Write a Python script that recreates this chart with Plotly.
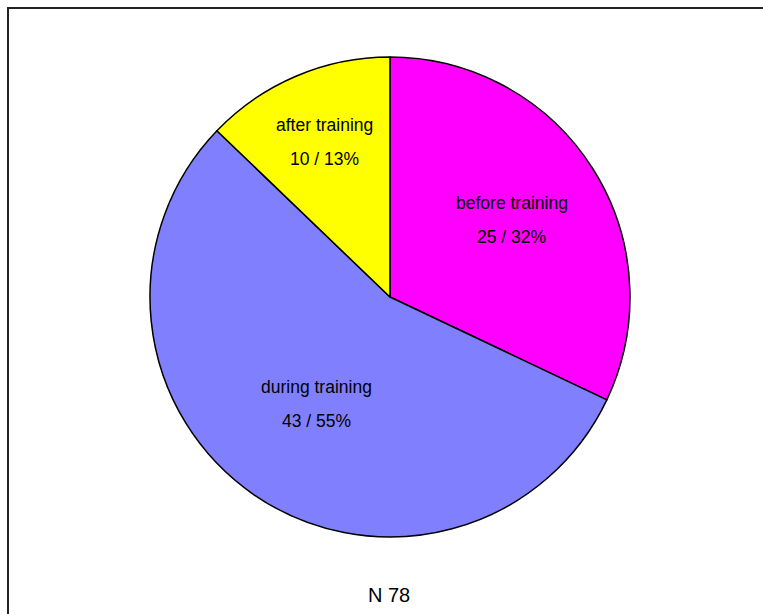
import math
import plotly.graph_objects as go

# ---- data ----
categories = ["before training", "during training", "after training"]
counts = [25, 43, 10]
colors = ["#FF00FF", "#8080FF", "#FFFF00"]
label_radius = [0.60, 0.54, 0.70]  # label distance from center, as fraction of radius
total = sum(counts)
footer = f"N {total}"

W, H = 763, 614
CX, CY, R = 390, 297, 240  # pie center / radius in pixels
FX, FY = 8, 8              # frame lines (left / top) in pixels

fig = go.Figure(go.Pie(
    labels=categories,
    values=counts,
    sort=False,
    direction="clockwise",
    rotation=0,
    textinfo="none",
    hoverinfo="none",
    marker=dict(colors=colors, line=dict(color="black", width=1.5)),
    domain=dict(x=[(CX - R) / W, (CX + R) / W],
                y=[(H - CY - R) / H, (H - CY + R) / H]),
    showlegend=False,
))

font = dict(family="Liberation Sans, Arial, sans-serif", size=17.5, color="black")
annotations = []
cum = 0
for name, v, rf in zip(categories, counts, label_radius):
    mid = (cum + v / 2) / total * 2 * math.pi
    cum += v
    px = CX + rf * R * math.sin(mid)
    py = CY - rf * R * math.cos(mid)
    pct = round(100 * v / total)
    for txt, shift in ((name, 17), (f"{v} / {pct}%", -17)):
        annotations.append(dict(
            x=px / W, y=1 - py / H, xref="paper", yref="paper",
            text=txt, showarrow=False, font=font,
            xanchor="center", yanchor="middle", yshift=shift,
        ))

annotations.append(dict(
    x=389 / W, y=1 - 595 / H, xref="paper", yref="paper",
    text=footer, showarrow=False,
    font=dict(family="Liberation Sans, Arial, sans-serif", size=20, color="black"),
    xanchor="center", yanchor="middle",
))

fig.update_layout(
    width=W, height=H,
    margin=dict(l=0, r=0, t=0, b=0),
    paper_bgcolor="white",
    plot_bgcolor="white",
    annotations=annotations,
    shapes=[
        dict(type="line", xref="paper", yref="paper",
             x0=(FX - 1) / W, x1=1, y0=1 - FY / H, y1=1 - FY / H,
             line=dict(color="#222222", width=2)),
        dict(type="line", xref="paper", yref="paper",
             x0=FX / W, x1=FX / W, y0=1 - FY / H, y1=0,
             line=dict(color="#222222", width=2)),
    ],
)

fig.write_html(
    "out.html",
    config={"displayModeBar": False},
    post_script=(
        "document.body.style.margin='0';"
        "document.documentElement.style.overflow='hidden';"
        "document.body.style.overflow='hidden';"
    ),
)
